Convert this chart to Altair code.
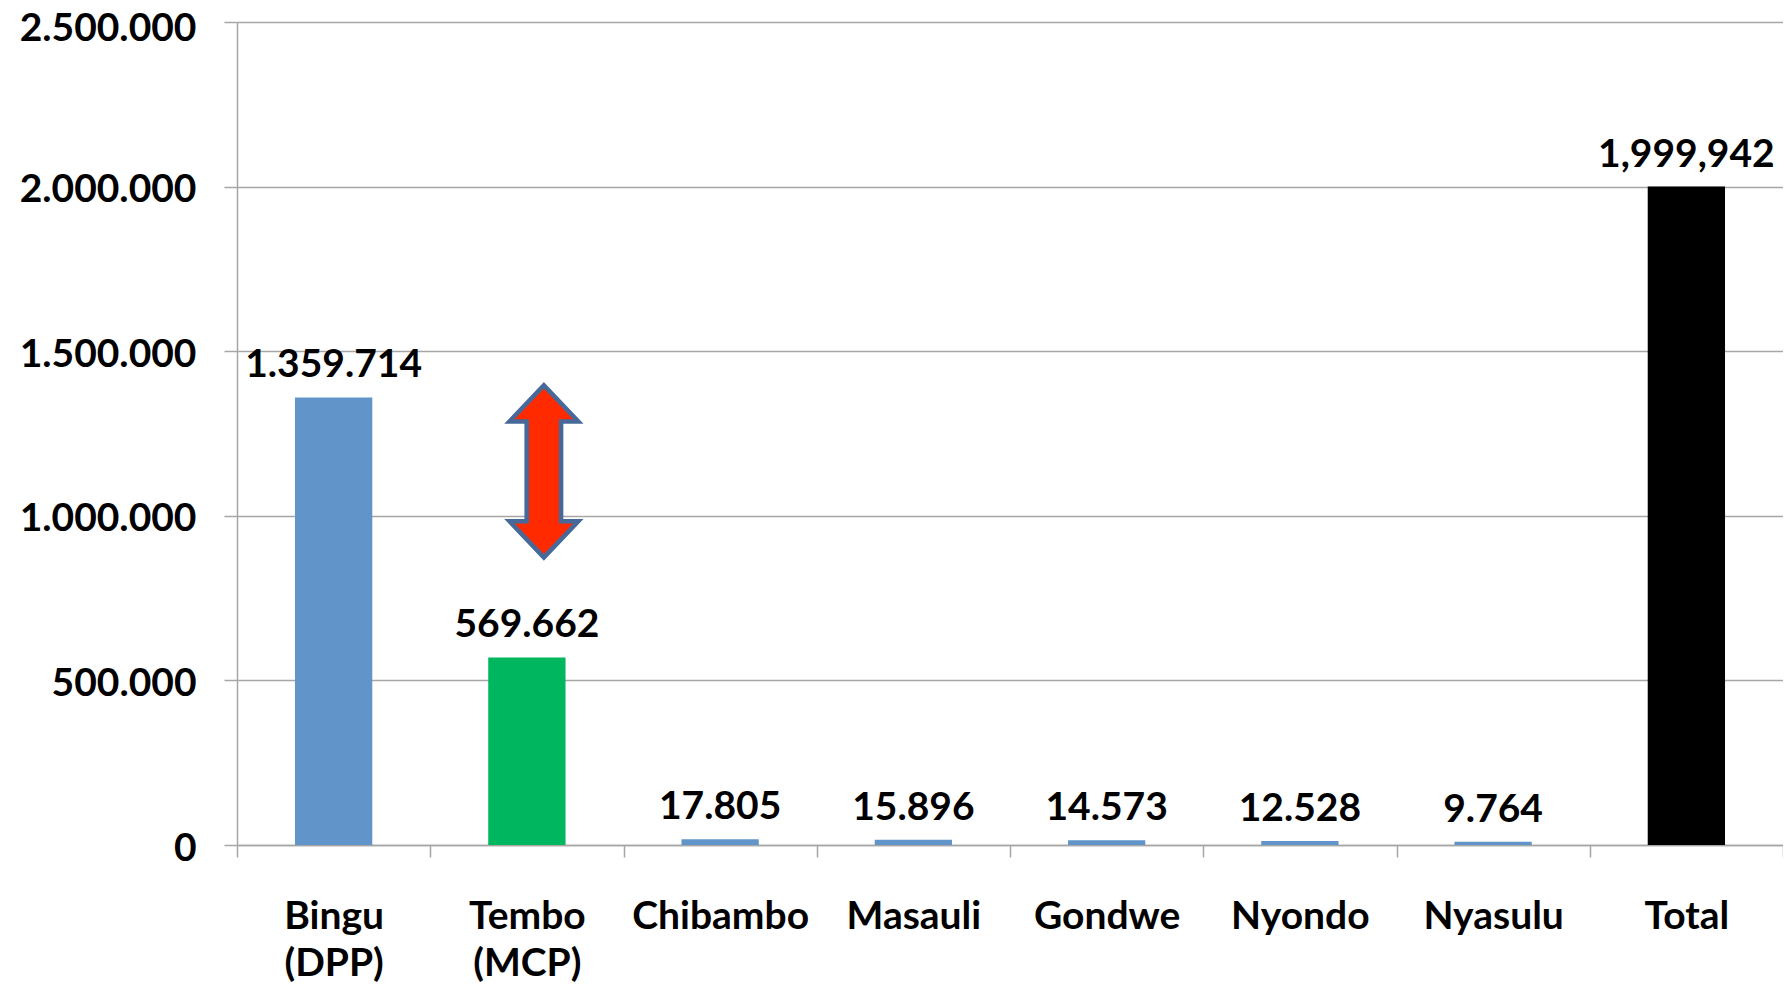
import altair as alt
import pandas as pd

# ---- data ----
categories = ["Bingu|(DPP)", "Tembo|(MCP)", "Chibambo", "Masauli", "Gondwe", "Nyondo", "Nyasulu", "Total"]
votes = [1359714, 569662, 17805, 15896, 14573, 12528, 9764, 1999942]
value_labels = ["1.359.714", "569.662", "17.805", "15.896", "14.573", "12.528", "9.764", "1,999,942"]
bar_colors = ["#6195CA", "#00B760", "#6195CA", "#6195CA", "#6195CA", "#6195CA", "#6195CA", "#000000"]
y_ticks = [0, 500000, 1000000, 1500000, 2000000, 2500000]

# annotation arrow (double-headed) near Tembo
arrow_category = ["Tembo|(MCP)"]
arrow_value = [1135000]

FONT = "Lato"
GRAY = "#A6A6A6"
ARROW_PATH = ("M0,-1 L0.40,-0.58 L0.20,-0.58 L0.20,0.58 L0.40,0.58 L0,1 "
              "L-0.40,0.58 L-0.20,0.58 L-0.20,-0.58 L-0.40,-0.58 Z")

df = pd.DataFrame({"candidate": categories, "votes": votes,
                   "label": value_labels, "color": bar_colors})
df_arrow = pd.DataFrame({"candidate": arrow_category, "votes": arrow_value})

x_enc = alt.X(
    "candidate:N", sort=categories,
    scale=alt.Scale(paddingInner=0, paddingOuter=0),
    axis=alt.Axis(title=None, labelAngle=0, labelExpr="split(datum.label, '|')",
                  tickBand="extent", tickSize=12, tickColor=GRAY, tickWidth=1.5,
                  domainColor=GRAY, domainWidth=1.5, labelPadding=40,
                  labelLineHeight=47, labelBaseline="top",
                  labelFont=FONT, labelFontSize=39, labelFontWeight="bold",
                  labelColor="black"),
)
y_enc = alt.Y(
    "votes:Q",
    scale=alt.Scale(domain=[0, 2500000], nice=False),
    axis=alt.Axis(title=None, values=y_ticks,
                  labelExpr="replace(replace(format(datum.value, ','), ',', '.'), ',', '.')",
                  labelOffset={"condition": {"test": "datum.value >= 2500000", "value": 6}, "value": 3},
                  grid=True, gridColor=GRAY, gridWidth=1.5,
                  tickSize=13, tickColor=GRAY, tickWidth=1.5,
                  domainColor=GRAY, domainWidth=1.5, labelPadding=28,
                  labelFont=FONT, labelFontSize=39, labelFontWeight="bold",
                  labelColor="black"),
)

bars = alt.Chart(df).mark_bar(width=alt.RelativeBandSize(0.4)).encode(
    x=x_enc, y=y_enc, color=alt.Color("color:N", scale=None)
)

texts = alt.Chart(df).mark_text(
    font=FONT, fontSize=39, fontWeight="bold", color="black",
    baseline="alphabetic", dy=-20
).encode(
    x=alt.X("candidate:N", sort=categories),
    y=alt.Y("votes:Q"),
    text="label:N",
)

arrow = alt.Chart(df_arrow).mark_point(
    shape=ARROW_PATH, size=29600, filled=True, fill="#FF2A00",
    stroke="#46699A", strokeWidth=4.5, opacity=1, xOffset=17
).encode(
    x=alt.X("candidate:N", sort=categories),
    y=alt.Y("votes:Q"),
)

chart = alt.layer(bars, texts, arrow).properties(
    width=1546, height=823,
    autosize=alt.AutoSizeParams(type="none"),
    padding={"left": 229, "top": 14, "right": 0, "bottom": 138},
).configure_view(stroke=None)

chart.save("out.html", embed_options={"renderer": "svg", "actions": False})
